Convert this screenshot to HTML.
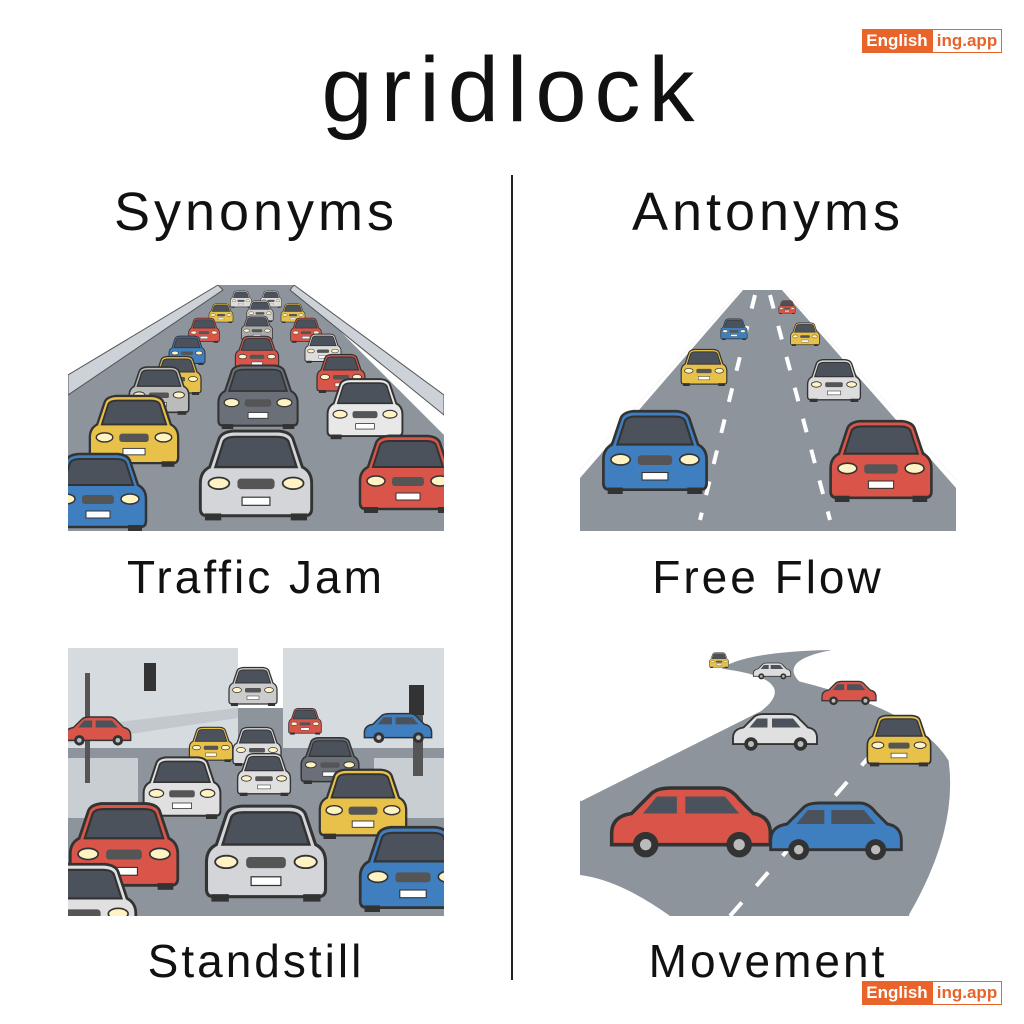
<!DOCTYPE html>
<html><head><meta charset="utf-8"><style>
body{margin:0;width:1024px;height:1024px;background:#fff;position:relative;overflow:hidden;font-family:"Liberation Sans",sans-serif;color:#111}
.t{position:absolute;text-align:center;white-space:nowrap}
svg{position:absolute}
</style></head><body>
<svg width="0" height="0" style="position:absolute">
<defs>
<symbol id="car" viewBox="0 0 100 80">
<path d="M18 10 Q20 4 30 3 L70 3 Q80 4 82 10 L90 34 Q98 38 98 48 L98 70 Q98 76 92 76 L8 76 Q2 76 2 70 L2 48 Q2 38 10 34 Z" fill="currentColor" stroke="#333" stroke-width="2.5"/>
<path d="M22 12 Q24 8 32 8 L68 8 Q76 8 78 12 L85 34 L15 34 Z" fill="#4b525b" stroke="#333" stroke-width="2"/>
<ellipse cx="18" cy="48" rx="9" ry="5" fill="#fff3c4" stroke="#333" stroke-width="1.5"/>
<ellipse cx="82" cy="48" rx="9" ry="5" fill="#fff3c4" stroke="#333" stroke-width="1.5"/>
<rect x="34" y="44" width="32" height="9" rx="3" fill="#555" />
<rect x="38" y="60" width="24" height="7" fill="#fff" stroke="#333" stroke-width="1"/>
<rect x="6" y="74" width="14" height="6" fill="#333"/><rect x="80" y="74" width="14" height="6" fill="#333"/>
</symbol>
<symbol id="side" viewBox="0 0 120 60">
<path d="M4 38 Q4 26 18 24 L32 10 Q36 6 46 6 L80 6 Q88 6 94 14 L104 24 Q116 26 116 38 L116 46 L4 46 Z" fill="currentColor" stroke="#333" stroke-width="2.5"/>
<path d="M36 12 L50 12 L50 24 L26 24 Z M56 12 L84 12 L94 24 L56 24 Z" fill="#4b525b"/>
<circle cx="28" cy="46" r="9" fill="#333"/><circle cx="94" cy="46" r="9" fill="#333"/>
<circle cx="28" cy="46" r="4" fill="#bbb"/><circle cx="94" cy="46" r="4" fill="#bbb"/>
</symbol>
</defs>
</svg>

<div style="position:absolute;left:862px;top:29px;width:70px;height:24px;background:#e8642a;color:#fff;font:bold 17px 'Liberation Sans',sans-serif;line-height:24px;text-align:center">English</div>
<div style="position:absolute;left:932px;top:29px;width:68px;height:22px;border:1px solid #e8642a;color:#e8642a;font:bold 17px 'Liberation Sans',sans-serif;line-height:22px;text-align:center">ing.app</div>
<div style="position:absolute;left:862px;top:981px;width:70px;height:24px;background:#e8642a;color:#fff;font:bold 17px 'Liberation Sans',sans-serif;line-height:24px;text-align:center">English</div>
<div style="position:absolute;left:932px;top:981px;width:68px;height:22px;border:1px solid #e8642a;color:#e8642a;font:bold 17px 'Liberation Sans',sans-serif;line-height:22px;text-align:center">ing.app</div>

<div class="t" style="left:0;width:1024px;top:38px;font-size:92px;line-height:104px;letter-spacing:8px">gridlock</div>
<div class="t" style="left:6px;width:500px;top:180px;font-size:54px;line-height:64px;letter-spacing:4px">Synonyms</div>
<div class="t" style="left:518px;width:500px;top:180px;font-size:54px;line-height:64px;letter-spacing:4px">Antonyms</div>
<div style="position:absolute;left:511px;top:175px;width:2px;height:805px;background:#222"></div>

<!-- top-left traffic jam -->
<svg style="left:68px;top:285px" width="376" height="246">
<polygon points="150,0 226,0 376,150 376,246 0,246 0,100" fill="#8d949c"/>
<polygon points="150,0 0,90 0,110 155,5" fill="#ccd2d8" stroke="#555"/>
<polygon points="226,0 376,110 376,130 222,5" fill="#ccd2d8" stroke="#555"/>
<use href="#car" x="162" y="5" width="22" height="18" color="#ddd"/>
<use href="#car" x="192" y="5" width="22" height="18" color="#ddd"/>
<use href="#car" x="140" y="18" width="26" height="20" color="#e7c14a"/>
<use href="#car" x="178" y="15" width="28" height="22" color="#ccc"/>
<use href="#car" x="212" y="18" width="26" height="20" color="#e7c14a"/>
<use href="#car" x="120" y="32" width="32" height="26" color="#d9554a"/>
<use href="#car" x="172" y="30" width="34" height="26" color="#aaa"/>
<use href="#car" x="222" y="32" width="32" height="26" color="#d9554a"/>
<use href="#car" x="100" y="50" width="38" height="30" color="#3f7fc0"/>
<use href="#car" x="166" y="50" width="46" height="36" color="#d9554a"/>
<use href="#car" x="236" y="48" width="38" height="30" color="#ddd"/>
<use href="#car" x="84" y="70" width="50" height="40" color="#e7c14a"/>
<use href="#car" x="248" y="68" width="50" height="40" color="#d9554a"/>
<use href="#car" x="60" y="80" width="62" height="50" color="#bbb"/>
<use href="#car" x="148" y="78" width="84" height="66" color="#6b7078"/>
<use href="#car" x="258" y="85" width="78" height="76" color="#e8e8e8"/>
<use href="#car" x="20" y="105" width="92" height="80" color="#e7c14a"/>
<use href="#car" x="130" y="134" width="116" height="110" color="#d3d5d8"/>
<use href="#car" x="290" y="130" width="100" height="116" color="#d9554a"/>
<use href="#car" x="-20" y="158" width="100" height="96" color="#3f7fc0"/>
</svg>

<!-- top-right free flow -->
<svg style="left:580px;top:290px" width="376" height="241">
<polygon points="160,0 205,0 376,190 376,241 0,241 0,180" fill="#8d949c"/>
<polygon points="160,0 0,180 0,188 163,0" fill="#fff"/>
<polygon points="205,0 376,190 376,198 202,0" fill="#fff"/>
<line x1="175" y1="5" x2="120" y2="230" stroke="#fff" stroke-width="4" stroke-dasharray="14 18"/>
<line x1="190" y1="5" x2="250" y2="230" stroke="#fff" stroke-width="4" stroke-dasharray="14 18"/>
<use href="#car" x="198" y="10" width="18" height="14" color="#d9554a"/>
<use href="#car" x="140" y="28" width="28" height="22" color="#3f7fc0"/>
<use href="#car" x="210" y="32" width="30" height="24" color="#e7c14a"/>
<use href="#car" x="100" y="58" width="48" height="38" color="#e7c14a"/>
<use href="#car" x="226" y="68" width="56" height="44" color="#ddd"/>
<use href="#car" x="20" y="118" width="110" height="86" color="#3f7fc0"/>
<use href="#car" x="248" y="128" width="106" height="84" color="#d9554a"/>
</svg>

<!-- bottom-left standstill -->
<svg style="left:68px;top:648px" width="376" height="268">
<rect width="376" height="268" fill="#8d949c"/>
<rect x="0" y="0" width="170" height="100" fill="#d6dbe0"/>
<rect x="215" y="0" width="161" height="100" fill="#d6dbe0"/>
<rect x="170" y="0" width="45" height="60" fill="#fff"/>
<path d="M0 80 L170 60 L170 70 L0 95 Z" fill="#c2c8ce"/>
<rect x="0" y="110" width="70" height="60" fill="#c9ced3"/>
<rect x="306" y="110" width="70" height="60" fill="#c9ced3"/>
<rect x="17" y="25" width="5" height="110" fill="#555"/>
<rect x="76" y="15" width="12" height="28" fill="#333"/>
<rect x="345" y="38" width="10" height="90" fill="#555"/>
<rect x="341" y="37" width="15" height="30" fill="#333"/>
<use href="#side" x="-5" y="65" width="70" height="36" color="#d9554a"/>
<use href="#side" x="294" y="62" width="72" height="36" color="#3f7fc0"/>
<use href="#car" x="160" y="18" width="50" height="40" color="#ccc"/>
<use href="#car" x="120" y="78" width="46" height="36" color="#e7c14a"/>
<use href="#car" x="220" y="58" width="34" height="30" color="#d9554a"/>
<use href="#car" x="164" y="76" width="50" height="44" color="#ddd"/>
<use href="#car" x="232" y="86" width="60" height="52" color="#6b7078"/>
<use href="#car" x="74" y="104" width="80" height="70" color="#e0e0e0"/>
<use href="#car" x="164" y="104" width="64" height="44" color="#e0e0e0"/>
<use href="#car" x="250" y="110" width="90" height="90" color="#e7c14a"/>
<use href="#car" x="0" y="142" width="112" height="110" color="#d9554a"/>
<use href="#car" x="136" y="140" width="124" height="128" color="#d3d5d8"/>
<use href="#car" x="290" y="160" width="110" height="120" color="#3f7fc0"/>
<use href="#car" x="-40" y="212" width="110" height="90" color="#e0e0e0"/>
</svg>

<!-- bottom-right movement -->
<svg style="left:580px;top:650px" width="376" height="266">
<path d="M0 150 Q120 90 180 60 Q220 30 140 20 Q160 2 250 0 L260 0 Q200 10 220 30 Q340 60 370 110 Q380 180 330 266 L90 266 Q40 230 0 225 Z" fill="#8d949c"/>
<path d="M0 150 Q120 90 180 60 Q220 30 140 20" fill="none" stroke="#fff" stroke-width="3"/>
<path d="M260 0 Q200 10 220 30 Q340 60 370 110 Q380 180 330 266" fill="none" stroke="#fff" stroke-width="3"/>
<line x1="150" y1="266" x2="330" y2="60" stroke="#fff" stroke-width="4" stroke-dasharray="18 22"/>
<use href="#car" x="128" y="2" width="22" height="16" color="#e7c14a"/>
<use href="#side" x="172" y="10" width="40" height="22" color="#ddd"/>
<use href="#side" x="240" y="28" width="58" height="30" color="#d9554a"/>
<use href="#side" x="150" y="56" width="90" height="52" color="#e0e0e0"/>
<use href="#car" x="286" y="60" width="66" height="60" color="#e7c14a"/>
<use href="#side" x="26" y="124" width="170" height="96" color="#d9554a"/>
<use href="#side" x="186" y="138" width="140" height="86" color="#3f7fc0"/>
</svg>

<div class="t" style="left:6px;width:500px;top:548px;font-size:46px;line-height:58px;letter-spacing:3px">Traffic Jam</div>
<div class="t" style="left:518px;width:500px;top:548px;font-size:46px;line-height:58px;letter-spacing:3px">Free Flow</div>
<div class="t" style="left:6px;width:500px;top:932px;font-size:46px;line-height:58px;letter-spacing:3px">Standstill</div>
<div class="t" style="left:518px;width:500px;top:932px;font-size:46px;line-height:58px;letter-spacing:3px">Movement</div>
</body></html>
